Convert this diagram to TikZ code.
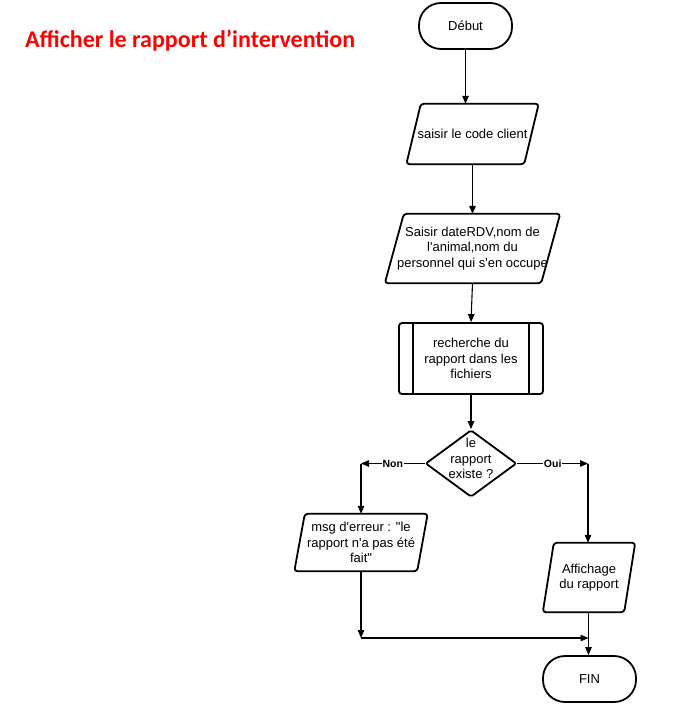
\documentclass[tikz,border=0pt]{standalone}
\usepackage{fontspec}
\newfontfamily\flowfamily{Liberation Sans}
\newfontfamily\titlefont{Carlito}
\usetikzlibrary{shapes.geometric,arrows.meta}

\newcommand{\flowfont}{\flowfamily\fontsize{13}{15.5}\selectfont}
% slanted outline round a named node: #1 node, #2 half of the slant
\newcommand{\parabord}[2]{\draw[parabox] ([xshift=#2]#1.north west) -- ([xshift=#2]#1.north east) -- ([xshift=-#2]#1.south east) -- ([xshift=-#2]#1.south west) -- cycle;}

\begin{document}
\begin{tikzpicture}[x=1pt,y=-1pt,
  term/.style={rectangle,draw=black,line width=1.8pt,rounded corners=22pt,minimum width=93pt,minimum height=46pt,font=\flowfont},
  para/.style={rectangle,inner sep=0pt,align=center,font=\flowfont},
  parabox/.style={draw=black,line width=1.8pt,rounded corners=3pt},
  txt/.style={align=center,font=\flowfont,inner sep=0pt},
  arr/.style={line width=1.1pt,-{Triangle[length=8pt,width=6.5pt]}},
  lab/.style={fill=white,font=\flowfamily\fontsize{10.5}{12}\selectfont\bfseries,inner sep=1pt}]
\useasboundingbox (0,0) rectangle (694,708);
% title
\node[anchor=base west,text=red,inner sep=0pt,font=\titlefont\fontsize{24}{28}\selectfont\bfseries] (title) at (25,48) {Afficher le rapport d’intervention};
% main column
\node[term] (debut) at (465.5,26) {Début};
\node[para,minimum width=117.5pt,minimum height=60pt] (code) at (472.5,134) {saisir le code client};
\parabord{code}{7.25pt}
\node[para,minimum width=156pt,minimum height=69pt] (saisie) at (472.5,248.5) {Saisir dateRDV,nom de\\l'animal,nom du\\personnel qui s'en occupe};
\parabord{saisie}{9.5pt}
\node[rectangle,draw=black,line width=1.8pt,rounded corners=3pt,minimum width=144pt,minimum height=71pt,align=center,font=\flowfont] (recherche) at (471,358.5) {recherche du\\rapport dans les\\fichiers};
\draw[line width=1.8pt] ([xshift=15pt]recherche.north west) -- ([xshift=15pt]recherche.south west);
\draw[line width=1.8pt] ([xshift=-15pt]recherche.north east) -- ([xshift=-15pt]recherche.south east);
\node[diamond,draw=black,line width=1.8pt,rounded corners=2pt,minimum width=91pt,minimum height=67pt,inner sep=0pt] (existe) at (471,463.5) {};
\node[txt] (existetxt) at (471,458.5) {le\\rapport\\existe ?};
% branches
\node[para,minimum width=122.5pt,minimum height=57pt] (erreur) at (361,542.5) {msg d'erreur : "le\\rapport n'a pas été\\fait"};
\parabord{erreur}{5.25pt}
\node[para,minimum width=81pt,minimum height=69pt] (affichage) at (589,577.5) {Affichage\\du rapport};
\parabord{affichage}{5.5pt}
\node[term] (fin) at (589.5,679) {FIN};
\coordinate (non) at (361,463.5);
\coordinate (oui) at (588,463.5);
\coordinate (retour) at (361,638);
\coordinate (jonction) at (588.5,638);
% connectors
\draw[arr] (debut.south) -- (debut.south |- code.north);
\draw[arr] (code.south) -- (code.south |- saisie.north);
\draw[arr] (saisie.south) -- (recherche.north);
\draw[arr] (recherche.south) -- (existe.north);
\draw[arr] (existe.west) -- node[lab] (nonlab) {Non} (non);
\draw[arr] (non) -- (erreur.north);
\draw[arr] (existe.east) -- node[lab] (ouilab) {Oui} (oui);
\draw[arr] (oui) -- (oui |- affichage.north);
\draw[arr] (erreur.south) -- (retour);
\draw[arr] (retour) -- (jonction);
\draw[arr] (affichage.south -| jonction) -- (fin.north -| jonction);
\end{tikzpicture}
\end{document}
